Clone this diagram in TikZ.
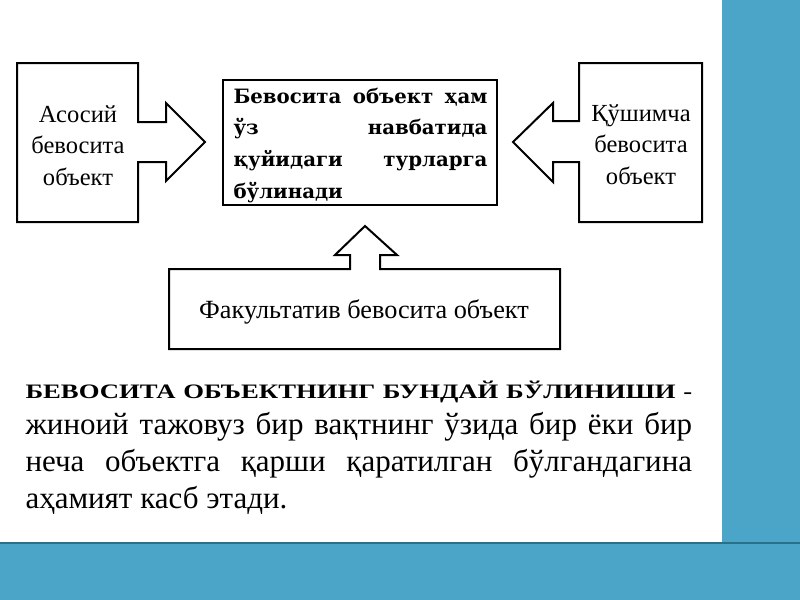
\documentclass[tikz,border=0pt]{standalone}
\usepackage{fontspec}
\setmainfont{Liberation Serif}
\newfontfamily\heavyfont{DejaVu Serif}
\newfontfamily\capsfont{Liberation Serif}[FakeStretch=1.3]

\definecolor{slideblue}{RGB}{74,165,200}
\definecolor{slideedge}{RGB}{42,112,134}

\tikzset{every picture/.style={line width=1.5pt}}
\tikzset{
  calloutline/.style={draw=black, fill=white, line join=miter},
  boxtext/.style={inner sep=0pt, align=center, font=\fontsize{18.4}{23.6}\selectfont},
  bodytext/.style={inner sep=0pt, align=justify, text width=500pt, font=\fontsize{23.25}{27.6}\selectfont}
}

\begin{document}
\begin{tikzpicture}[x=0.75pt,y=0.75pt,yscale=-1,xscale=1]
		\useasboundingbox (0,0) rectangle (800,600);

		%Shape: Slide background
		\fill [white] (0,0) rectangle (800,600);
		\fill [slideblue] (722,0) rectangle (800,600);
		\fill [slideblue] (0,542) rectangle (800,600);
		%Straight Lines: band edge
		\draw [slideedge] (0,543) -- (800,543);

		%Shape: Right Arrow Callout
		\draw [calloutline] (17,63) -- (138,63) -- (138,122) -- (166,122) -- (166,103) -- (205,142) -- (166,181) -- (166,162) -- (138,162) -- (138,222) -- (17,222) -- cycle ;
		%Shape: Left Arrow Callout
		\draw [calloutline] (702,63) -- (579,63) -- (579,121) -- (553,121) -- (553,103) -- (513,142) -- (553,182) -- (553,162) -- (579,162) -- (579,222) -- (702,222) -- cycle ;
		%Shape: Up Arrow Callout
		\draw [calloutline] (169,349) -- (169,269) -- (350,269) -- (350,255) -- (335,255) -- (365,226) -- (397,255) -- (380,255) -- (380,269) -- (560,269) -- (560,349) -- cycle ;
		%Shape: Rectangle
		\draw [calloutline] (223,80) rectangle (497,205);

		% Text Node
		\draw (78,185) node (asosiy) [boxtext, anchor=base] {Асосий\\бевосита\\объект};
		% Text Node
		\draw (641,184) node (qushimcha) [boxtext, anchor=base] {Қўшимча\\бевосита\\объект};
		% Text Node
		\draw (364,318) node (fakultativ) [boxtext, anchor=base, font=\fontsize{19.7}{23.6}\selectfont] {Факультатив бевосита объект};
		% Text Node
		\draw (232.5,103) node (bevosita) [inner sep=0pt, anchor=base west, align=justify, text width=190.5pt, font=\heavyfont\fontsize{14.8}{23.8}\selectfont\bfseries] {\hyphenpenalty=10000 Бевосита объект ҳам\linebreak ўз навбатида\linebreak қуйидаги турларга\linebreak бўлинади};
		% Text Node
		\draw (24.5,398) node (izoh) [bodytext, anchor=base west] {\hyphenpenalty=10000 {\capsfont\fontsize{15.4}{27.6}\selectfont\bfseries БЕВОСИТА ОБЪЕКТНИНГ БУНДАЙ БЎЛИНИШИ -}\linebreak жиноий тажовуз бир вақтнинг ўзида бир ёки бир\linebreak неча объектга қарши қаратилган бўлгандагина\linebreak аҳамият касб этади.};

\end{tikzpicture}
\end{document}
